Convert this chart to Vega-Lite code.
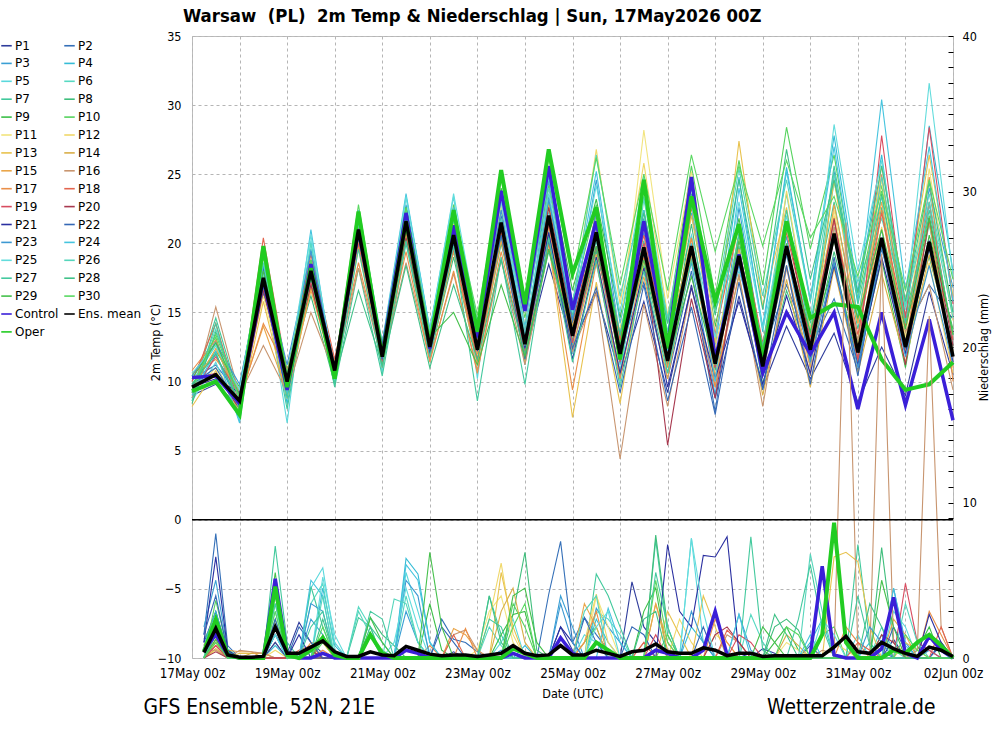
{
  "$schema": "https://vega.github.io/schema/vega-lite/v6.json",
  "width": 761,
  "height": 622,
  "autosize": {"type": "none"},
  "padding": {"left": 192, "top": 36, "right": 47, "bottom": 72},
  "background": "white",
  "config": {
    "view": {"stroke": "#bdbdbd", "strokeWidth": 1},
    "font": "DejaVu Sans",
    "axis": {
      "labelFont": "DejaVu Sans Condensed, DejaVu Sans",
      "titleFont": "DejaVu Sans Condensed, DejaVu Sans",
      "labelFontSize": 12.5,
      "titleFontSize": 12.5,
      "labelColor": "#000",
      "titleColor": "#000",
      "titleFontWeight": "normal",
      "grid": false,
      "domain": false,
      "ticks": false
    }
  },
  "title": {
    "text": "Warsaw \u00a0(PL) \u00a02m Temp & Niederschlag | Sun, 17May2026 00Z",
    "anchor": "start",
    "frame": "group",
    "dx": -9,
    "offset": 5,
    "font": "DejaVu Sans Condensed, DejaVu Sans",
    "fontSize": 18.4,
    "fontWeight": "bold",
    "color": "#000"
  },
  "datasets": {
    "steps": [
      {"k": "n0", "t": 1778976000000}, {"k": "n1", "t": 1778997600000}, {"k": "n2", "t": 1779019200000}, {"k": "n3", "t": 1779040800000},
      {"k": "n4", "t": 1779062400000}, {"k": "n5", "t": 1779084000000}, {"k": "n6", "t": 1779105600000}, {"k": "n7", "t": 1779127200000},
      {"k": "n8", "t": 1779148800000}, {"k": "n9", "t": 1779170400000}, {"k": "n10", "t": 1779192000000}, {"k": "n11", "t": 1779213600000},
      {"k": "n12", "t": 1779235200000}, {"k": "n13", "t": 1779256800000}, {"k": "n14", "t": 1779278400000}, {"k": "n15", "t": 1779300000000},
      {"k": "n16", "t": 1779321600000}, {"k": "n17", "t": 1779343200000}, {"k": "n18", "t": 1779364800000}, {"k": "n19", "t": 1779386400000},
      {"k": "n20", "t": 1779408000000}, {"k": "n21", "t": 1779429600000}, {"k": "n22", "t": 1779451200000}, {"k": "n23", "t": 1779472800000},
      {"k": "n24", "t": 1779494400000}, {"k": "n25", "t": 1779516000000}, {"k": "n26", "t": 1779537600000}, {"k": "n27", "t": 1779559200000},
      {"k": "n28", "t": 1779580800000}, {"k": "n29", "t": 1779602400000}, {"k": "n30", "t": 1779624000000}, {"k": "n31", "t": 1779645600000},
      {"k": "n32", "t": 1779667200000}, {"k": "n33", "t": 1779688800000}, {"k": "n34", "t": 1779710400000}, {"k": "n35", "t": 1779732000000},
      {"k": "n36", "t": 1779753600000}, {"k": "n37", "t": 1779775200000}, {"k": "n38", "t": 1779796800000}, {"k": "n39", "t": 1779818400000},
      {"k": "n40", "t": 1779840000000}, {"k": "n41", "t": 1779861600000}, {"k": "n42", "t": 1779883200000}, {"k": "n43", "t": 1779904800000},
      {"k": "n44", "t": 1779926400000}, {"k": "n45", "t": 1779948000000}, {"k": "n46", "t": 1779969600000}, {"k": "n47", "t": 1779991200000},
      {"k": "n48", "t": 1780012800000}, {"k": "n49", "t": 1780034400000}, {"k": "n50", "t": 1780056000000}, {"k": "n51", "t": 1780077600000},
      {"k": "n52", "t": 1780099200000}, {"k": "n53", "t": 1780120800000}, {"k": "n54", "t": 1780142400000}, {"k": "n55", "t": 1780164000000},
      {"k": "n56", "t": 1780185600000}, {"k": "n57", "t": 1780207200000}, {"k": "n58", "t": 1780228800000}, {"k": "n59", "t": 1780250400000},
      {"k": "n60", "t": 1780272000000}, {"k": "n61", "t": 1780293600000}, {"k": "n62", "t": 1780315200000}, {"k": "n63", "t": 1780336800000},
      {"k": "n64", "t": 1780358400000}
    ],
    "temp": [
      {"s":"P1","n0":9,"n2":9.8,"n4":8.2,"n6":17,"n8":9.8,"n10":18.8,"n12":11,"n14":20.5,"n16":12,"n18":21,"n20":12.8,"n22":20,"n24":12,"n26":20.5,"n28":11.8,"n30":18.5,"n32":12.6,"n34":16.5,"n36":10.4,"n38":15.8,"n40":9.2,"n42":17,"n44":8.8,"n46":16.2,"n48":9.5,"n50":14,"n52":10.2,"n54":13.5,"n56":8.5,"n58":12.5,"n60":9,"n62":16.5,"n64":10.5},
      {"s":"P2","n0":10.2,"n2":11.2,"n4":9,"n6":16.4,"n8":10.4,"n10":18.2,"n12":11.3,"n14":21.8,"n16":12.4,"n18":22.4,"n20":13,"n22":21.2,"n24":11.6,"n26":22,"n28":12.2,"n30":23.5,"n32":14.2,"n34":19.5,"n36":12.4,"n38":17.2,"n40":10.2,"n42":18,"n44":7.8,"n46":20.4,"n48":12,"n50":17,"n52":12.4,"n54":16,"n56":10.8,"n58":19.6,"n60":13.5,"n62":17,"n64":14.5},
      {"s":"P3","n0":8.8,"n2":12,"n4":8,"n6":18.5,"n8":10.6,"n10":19.6,"n12":10.2,"n14":21.2,"n16":11.3,"n18":22.8,"n20":13.6,"n22":21.8,"n24":13,"n26":23,"n28":12.8,"n30":24.5,"n32":14.6,"n34":24.6,"n36":13.2,"n38":20.8,"n40":12,"n42":18.6,"n44":9,"n46":22.6,"n48":12.2,"n50":20.5,"n52":11,"n54":25.2,"n56":14.5,"n58":21,"n60":12,"n62":24,"n64":16.8},
      {"s":"P4","n0":9.4,"n2":13,"n4":7.4,"n6":18,"n8":8.4,"n10":17.4,"n12":10.6,"n14":20.8,"n16":11,"n18":21.8,"n20":12,"n22":20.8,"n24":11.8,"n26":21.2,"n28":11.2,"n30":22.4,"n32":12.6,"n34":22,"n36":11.2,"n38":19.2,"n40":12.8,"n42":22.2,"n44":12.5,"n46":24.8,"n48":13.6,"n50":25.5,"n52":15.8,"n54":27.8,"n56":16.5,"n58":26.4,"n60":14,"n62":28.5,"n64":18},
      {"s":"P5","n0":8.6,"n2":11.4,"n4":7.2,"n6":17.8,"n8":7,"n10":20.2,"n12":10,"n14":20.6,"n16":10.6,"n18":23.4,"n20":13.8,"n22":23.4,"n24":10.2,"n26":22.6,"n28":13.8,"n30":21.8,"n32":13.8,"n34":18.5,"n36":10.8,"n38":21.5,"n40":14.6,"n42":20.6,"n44":13.2,"n46":18,"n48":12.6,"n50":22,"n52":13,"n54":21.2,"n56":11.8,"n58":20.2,"n60":12.4,"n62":22.8,"n64":13},
      {"s":"P6","n0":10,"n2":12.6,"n4":8.4,"n6":18.6,"n8":9.6,"n10":20,"n12":10.4,"n14":21.6,"n16":11.8,"n18":22,"n20":12.4,"n22":21.6,"n24":12.8,"n26":21.8,"n28":11.8,"n30":21,"n32":12,"n34":20.2,"n36":10,"n38":23.2,"n40":13.6,"n42":24.6,"n44":15.2,"n46":19.2,"n48":12.6,"n50":23.6,"n52":13.6,"n54":24.4,"n56":17.2,"n58":21.8,"n60":15.6,"n62":23.6,"n64":15},
      {"s":"P7","n0":9.2,"n2":14.6,"n4":8.8,"n6":17.2,"n8":8,"n10":17.8,"n12":9.6,"n14":18.2,"n16":10.4,"n18":20,"n20":11.6,"n22":19.6,"n24":12.4,"n26":20.4,"n28":13.6,"n30":23,"n32":14.8,"n34":21.6,"n36":13.4,"n38":20.2,"n40":10.6,"n42":19,"n44":11,"n46":20.8,"n48":11.4,"n50":21.6,"n52":14.2,"n54":23,"n56":13.8,"n58":22.6,"n60":12.8,"n62":21.4,"n64":12},
      {"s":"P8","n0":8.4,"n2":13.6,"n4":9.2,"n6":16.8,"n8":10.2,"n10":16.2,"n12":9.8,"n14":19.8,"n16":11.6,"n18":20.8,"n20":11.8,"n22":19,"n24":11.4,"n26":20,"n28":12.4,"n30":20.6,"n32":13,"n34":19.4,"n36":12.6,"n38":18.4,"n40":11.2,"n42":21.4,"n44":10.8,"n46":19.8,"n48":9.8,"n50":16.6,"n52":11.6,"n54":19.4,"n56":12.8,"n58":23.6,"n60":14.4,"n62":19,"n64":12.6},
      {"s":"P9","n0":9.8,"n2":12.2,"n4":9.6,"n6":19,"n8":10.8,"n10":17.6,"n12":11.2,"n14":21.4,"n16":12.8,"n18":22.6,"n20":13.4,"n22":22.2,"n24":14.4,"n26":24,"n28":15.2,"n30":25.4,"n32":16.6,"n34":23.2,"n36":14.6,"n38":22.4,"n40":13.2,"n42":24.4,"n44":14,"n46":21.8,"n48":12.4,"n50":20,"n52":12.6,"n54":18.6,"n56":11.6,"n58":18.8,"n60":11,"n62":20.6,"n64":13.8},
      {"s":"P10","n0":10.4,"n2":13.2,"n4":8,"n6":19.2,"n8":10,"n10":18.8,"n12":10.8,"n14":20.4,"n16":12.2,"n18":21.2,"n20":12.6,"n22":22.8,"n24":13.8,"n26":22.4,"n28":14.6,"n30":24.2,"n32":15.8,"n34":22.8,"n36":12.8,"n38":24,"n40":14.2,"n42":25.6,"n44":16.2,"n46":26,"n48":17,"n50":28.4,"n52":19.6,"n54":26.4,"n56":16,"n58":24.2,"n60":14.8,"n62":22,"n64":13.4},
      {"s":"P11","n0":9,"n2":11,"n4":8.6,"n6":16.2,"n8":9.4,"n10":17,"n12":10.4,"n14":19.6,"n16":11.4,"n18":21.4,"n20":12.8,"n22":20.2,"n24":11.8,"n26":22.8,"n28":13,"n30":22.6,"n32":13.4,"n34":21.8,"n36":13.6,"n38":28.2,"n40":16,"n42":25.2,"n44":13.6,"n46":21.2,"n48":10.8,"n50":19.2,"n52":11.8,"n54":22.4,"n56":12.6,"n58":24.6,"n60":13.2,"n62":25.4,"n64":14.4},
      {"s":"P12","n0":9.6,"n2":10.4,"n4":8.2,"n6":17.6,"n8":10.4,"n10":18.4,"n12":11.4,"n14":21.6,"n16":12.6,"n18":22.2,"n20":13.2,"n22":21.4,"n24":12.6,"n26":23.6,"n28":14,"n30":25.2,"n32":15.4,"n34":26.8,"n36":15.6,"n38":25.8,"n40":14.8,"n42":23,"n44":12.4,"n46":20.4,"n48":11.6,"n50":23.8,"n52":13.8,"n54":22,"n56":12.4,"n58":21.2,"n60":12,"n62":18.6,"n64":10.6},
      {"s":"P13","n0":8.2,"n2":10.8,"n4":7.8,"n6":15.8,"n8":8.8,"n10":16.8,"n12":10.2,"n14":20.2,"n16":11.2,"n18":21.8,"n20":13.4,"n22":22,"n24":13.6,"n26":21,"n28":11.4,"n30":20,"n32":7.4,"n34":17.2,"n36":8.4,"n38":18.8,"n40":12.4,"n42":22,"n44":12.8,"n46":27.4,"n48":15.4,"n50":22.6,"n52":12.2,"n54":24.6,"n56":14.2,"n58":25.6,"n60":15.8,"n62":26.4,"n64":16.2},
      {"s":"P14","n0":10.6,"n2":11.6,"n4":9.4,"n6":17.2,"n8":10.6,"n10":18,"n12":11,"n14":20.8,"n16":11.8,"n18":20.6,"n20":12.2,"n22":20.4,"n24":12,"n26":21.4,"n28":12.6,"n30":22.8,"n32":14,"n34":21,"n36":11.8,"n38":21.2,"n40":12.6,"n42":20.4,"n44":10.2,"n46":17.6,"n48":9,"n50":17.4,"n52":9.6,"n54":18.2,"n56":10.6,"n58":17.8,"n60":11.4,"n62":19.2,"n64":12.2},
      {"s":"P15","n0":9.4,"n2":12.4,"n4":8.8,"n6":14,"n8":9.2,"n10":16.6,"n12":10.6,"n14":19.8,"n16":11,"n18":20.4,"n20":11.8,"n22":19.4,"n24":11.2,"n26":20.2,"n28":12,"n30":21.2,"n32":12.4,"n34":19.2,"n36":10.6,"n38":17.6,"n40":10.2,"n42":19.2,"n44":10.4,"n46":19.6,"n48":11.6,"n50":18.4,"n52":11,"n54":22.8,"n56":14.2,"n58":23,"n60":12.8,"n62":21.6,"n64":11},
      {"s":"P16","n0":8.8,"n2":15.4,"n4":9,"n6":12.6,"n8":9.2,"n10":15,"n12":10.6,"n14":18.2,"n16":11.4,"n18":18.6,"n20":11.6,"n22":17.8,"n24":10.8,"n26":18.8,"n28":11.2,"n30":19.6,"n32":12.2,"n34":16.4,"n36":4.4,"n38":15.6,"n40":8.2,"n42":16.8,"n44":9.6,"n46":17.8,"n48":8.2,"n50":18.2,"n52":10.4,"n54":21.2,"n56":13,"n58":25,"n60":13.6,"n62":17,"n64":9.4},
      {"s":"P17","n0":10.8,"n2":13,"n4":8.6,"n6":14.2,"n8":10.8,"n10":17.6,"n12":10.8,"n14":18.6,"n16":11.6,"n18":19.4,"n20":11.4,"n22":18,"n24":10.6,"n26":19.4,"n28":11.8,"n30":20,"n32":9.4,"n34":18.6,"n36":10.2,"n38":19,"n40":11,"n42":20.4,"n44":9.6,"n46":18.6,"n48":10.4,"n50":19.6,"n52":12,"n54":20.8,"n56":11.4,"n58":22.4,"n60":12.2,"n62":24.8,"n64":10},
      {"s":"P18","n0":10,"n2":14.2,"n4":8.4,"n6":20.4,"n8":10.6,"n10":19.2,"n12":11.6,"n14":20,"n16":12,"n18":20.8,"n20":12.6,"n22":19.6,"n24":11.6,"n26":20.8,"n28":12.6,"n30":21.6,"n32":13.6,"n34":22.4,"n36":13,"n38":20.6,"n40":12,"n42":22.6,"n44":13.4,"n46":21.4,"n48":12.8,"n50":20.8,"n52":13.2,"n54":21.6,"n56":13.4,"n58":22.2,"n60":14,"n62":23,"n64":13},
      {"s":"P19","n0":9.2,"n2":11.8,"n4":9,"n6":17,"n8":10.2,"n10":17.2,"n12":10.2,"n14":20.6,"n16":11.4,"n18":21.6,"n20":12.2,"n22":20.8,"n24":12.4,"n26":21.2,"n28":12,"n30":21.4,"n32":12.8,"n34":19.8,"n36":11.4,"n38":20,"n40":11.8,"n42":19.6,"n44":11,"n46":18.8,"n48":10.6,"n50":19.6,"n52":12,"n54":20.4,"n56":11.6,"n58":27.8,"n60":14.6,"n62":28.4,"n64":15.6},
      {"s":"P20","n0":10.2,"n2":10.6,"n4":8,"n6":16.6,"n8":9.8,"n10":17,"n12":10.4,"n14":21.2,"n16":12.2,"n18":20.4,"n20":12.4,"n22":20.6,"n24":12.8,"n26":21.6,"n28":13.4,"n30":22.6,"n32":14.4,"n34":20.6,"n36":12.2,"n38":19.4,"n40":5.4,"n42":16,"n44":8.8,"n46":19,"n48":11,"n50":21.4,"n52":12.8,"n54":21.8,"n56":12.2,"n58":20,"n60":11.2,"n62":21.8,"n64":12.6},
      {"s":"P21","n0":9.6,"n2":10.2,"n4":9.2,"n6":17.4,"n8":9.6,"n10":18.6,"n12":11.2,"n14":21,"n16":12.2,"n18":21.4,"n20":12,"n22":20.4,"n24":12.2,"n26":21.8,"n28":12.4,"n30":20.8,"n32":11.6,"n34":19,"n36":10.6,"n38":18.2,"n40":9.6,"n42":16.8,"n44":10.2,"n46":15.8,"n48":9.8,"n50":16.2,"n52":10.6,"n54":18.4,"n56":11.2,"n58":19,"n60":12,"n62":20.2,"n64":11.4},
      {"s":"P22","n0":9.8,"n2":11,"n4":8.2,"n6":18.2,"n8":10.2,"n10":18,"n12":10.4,"n14":20.4,"n16":11.6,"n18":21.2,"n20":12.6,"n22":20,"n24":12.6,"n26":20.6,"n28":11.6,"n30":20.2,"n32":12.4,"n34":16.8,"n36":9.2,"n38":17,"n40":8.6,"n42":15.4,"n44":7.6,"n46":17.2,"n48":9.4,"n50":18.4,"n52":9.8,"n54":19,"n56":10.4,"n58":20.4,"n60":12.4,"n62":19.6,"n64":12},
      {"s":"P23","n0":10.4,"n2":12.8,"n4":9.8,"n6":18.4,"n8":11.2,"n10":19.4,"n12":11,"n14":22,"n16":12.4,"n18":22,"n20":13,"n22":21.2,"n24":13.2,"n26":22.4,"n28":13.2,"n30":23.2,"n32":14.4,"n34":22.2,"n36":13.4,"n38":21.8,"n40":12.6,"n42":19.4,"n44":11.6,"n46":18.4,"n48":10.6,"n50":19.2,"n52":11.4,"n54":18.6,"n56":11,"n58":19.8,"n60":11.8,"n62":18.4,"n64":11.2},
      {"s":"P24","n0":9,"n2":12.2,"n4":7,"n6":19.4,"n8":9,"n10":21,"n12":10.2,"n14":22.4,"n16":12.8,"n18":23.6,"n20":13.8,"n22":22.6,"n24":13.6,"n26":23.4,"n28":14,"n30":24.8,"n32":15.6,"n34":25.2,"n36":14.2,"n38":22.4,"n40":12.2,"n42":20,"n44":10,"n46":24,"n48":14,"n50":25.2,"n52":16,"n54":27,"n56":15.8,"n58":30.4,"n60":16.6,"n62":27,"n64":15.8},
      {"s":"P25","n0":10.6,"n2":12.6,"n4":9.4,"n6":19.2,"n8":10.4,"n10":20.6,"n12":10.6,"n14":22,"n16":12.6,"n18":23.4,"n20":13.6,"n22":23.6,"n24":14.2,"n26":23,"n28":13.4,"n30":23.6,"n32":15,"n34":24.2,"n36":15,"n38":24.8,"n40":14.4,"n42":22.8,"n44":13.2,"n46":23,"n48":13.8,"n50":21.6,"n52":14.4,"n54":28.6,"n56":18,"n58":26,"n60":15.2,"n62":31.6,"n64":17.6},
      {"s":"P26","n0":9.2,"n2":13.8,"n4":8.6,"n6":18.6,"n8":9.8,"n10":18.2,"n12":10.8,"n14":21.4,"n16":12,"n18":22.4,"n20":12.8,"n22":21,"n24":12.4,"n26":21.8,"n28":12.6,"n30":24,"n32":15.6,"n34":26.4,"n36":16.2,"n38":23.4,"n40":14.6,"n42":24,"n44":15.4,"n46":25.4,"n48":16.2,"n50":24.6,"n52":15.8,"n54":25,"n56":14.6,"n58":24.8,"n60":15.4,"n62":23,"n64":14.6},
      {"s":"P27","n0":8.6,"n2":14.2,"n4":7.8,"n6":17.6,"n8":8.8,"n10":17.6,"n12":9.8,"n14":19.6,"n16":11,"n18":20.2,"n20":11.8,"n22":19.8,"n24":8.6,"n26":19,"n28":9.8,"n30":20.4,"n32":11.4,"n34":18.8,"n36":9.6,"n38":18,"n40":10.6,"n42":18.8,"n44":11.6,"n46":20.6,"n48":12.6,"n50":22.4,"n52":13.4,"n54":25.6,"n56":15.6,"n58":23.4,"n60":14.2,"n62":22.4,"n64":13.4},
      {"s":"P28","n0":9.8,"n2":12,"n4":8.4,"n6":17,"n8":10,"n10":17.8,"n12":10.2,"n14":16.6,"n16":11.2,"n18":18.4,"n20":11,"n22":17,"n24":11.6,"n26":18.8,"n28":12,"n30":19.4,"n32":13.6,"n34":21.4,"n36":13.4,"n38":22.2,"n40":14.2,"n42":23.6,"n44":14.8,"n46":24.6,"n48":15.2,"n50":26.8,"n52":17.4,"n54":24.6,"n56":16.4,"n58":25.6,"n60":15.8,"n62":24.4,"n64":15},
      {"s":"P29","n0":10.2,"n2":12.8,"n4":9,"n6":18,"n8":10.4,"n10":18.6,"n12":11,"n14":21.8,"n16":12.6,"n18":22,"n20":13.2,"n22":15,"n24":11.2,"n26":17,"n28":11.8,"n30":19.6,"n32":13.4,"n34":19.8,"n36":12.4,"n38":18.8,"n40":11.6,"n42":17.6,"n44":11.2,"n46":20.2,"n48":12.4,"n50":19.6,"n52":13.6,"n54":20.2,"n56":14.6,"n58":21,"n60":13.8,"n62":21.8,"n64":13.4},
      {"s":"P30","n0":9.4,"n2":13.4,"n4":8.8,"n6":19.4,"n8":10.6,"n10":18.8,"n12":11,"n14":22.8,"n16":12.4,"n18":22.6,"n20":13.4,"n22":22.4,"n24":14.8,"n26":24.6,"n28":15.8,"n30":26.2,"n32":17.4,"n34":26.2,"n36":17,"n38":25,"n40":16.6,"n42":26.4,"n44":19.4,"n46":25.6,"n48":19.8,"n50":26,"n52":20.4,"n54":23.4,"n56":17.6,"n58":23.8,"n60":16.6,"n62":24.6,"n64":17.4},
      {"s":"Control","n0":10.3,"n2":10.4,"n4":8.4,"n6":17.4,"n8":9.4,"n10":18.5,"n12":10.6,"n14":21,"n16":12.1,"n18":22.2,"n20":12.4,"n22":21.3,"n24":13.2,"n26":23.8,"n28":15.1,"n30":25.6,"n32":15.2,"n34":21.6,"n36":11.8,"n38":21.6,"n40":12.6,"n42":24.8,"n44":11.6,"n46":19.2,"n48":10.6,"n50":15,"n52":12,"n54":15,"n56":8,"n58":15,"n60":8.3,"n62":14.5,"n64":7.2},
      {"s":"Mean","n0":9.6,"n2":10.5,"n4":8.6,"n6":17.5,"n8":10,"n10":18,"n12":10.8,"n14":21,"n16":11.8,"n18":21.6,"n20":12.5,"n22":20.6,"n24":12.3,"n26":21.5,"n28":12.7,"n30":22,"n32":13.3,"n34":20.8,"n36":12,"n38":19.7,"n40":11.5,"n42":19.8,"n44":11.3,"n46":19.1,"n48":11.1,"n50":19.8,"n52":12.3,"n54":20.7,"n56":12.1,"n58":20.4,"n60":12.5,"n62":20.1,"n64":11.8},
      {"s":"Oper","n0":9.3,"n2":10,"n4":7.6,"n6":19.8,"n8":9.6,"n10":18.2,"n12":10.2,"n14":22.3,"n16":11.8,"n18":21.6,"n20":12.6,"n22":22.4,"n24":13.6,"n26":25.3,"n28":15.6,"n30":26.8,"n32":17.8,"n34":22.6,"n36":11.6,"n38":24.6,"n40":12.4,"n42":23.4,"n44":15.8,"n46":21.4,"n48":11.4,"n50":21.6,"n52":14.6,"n54":15.6,"n56":15.4,"n58":11.6,"n60":9.4,"n62":9.8,"n64":11.4}
    ],
    "rain": [
      {"s":"P1","n1":1,"n2":3,"n3":0.4,"n4":0,"n5":0,"n6":0,"n7":1.5,"n8":0.3,"n9":2.3,"n10":1,"n11":0.3,"n12":0,"n13":0,"n14":0,"n15":0,"n16":0,"n17":0,"n18":0,"n19":0,"n20":0,"n21":0,"n22":0.4,"n23":0,"n24":0,"n25":0,"n26":0,"n27":0,"n28":0,"n29":0,"n30":0,"n31":2,"n32":0.5,"n33":0,"n34":0,"n35":0,"n36":0,"n37":4.9,"n38":2,"n39":1,"n40":0.3,"n41":0,"n42":0,"n43":0,"n44":0,"n45":0,"n46":0,"n47":0,"n48":0.6,"n49":0.3,"n50":0,"n51":0,"n52":0,"n53":0,"n54":0,"n55":0,"n56":0,"n57":0,"n58":0,"n59":1.2,"n60":0,"n61":0,"n62":0,"n63":1,"n64":0},
      {"s":"P2","n1":1.5,"n2":8,"n3":0.8,"n4":0,"n5":0,"n6":0,"n7":2,"n8":0.5,"n9":0,"n10":0,"n11":0,"n12":0,"n13":0,"n14":0,"n15":0,"n16":0,"n17":0,"n18":0,"n19":0,"n20":0,"n21":2.5,"n22":1.2,"n23":1,"n24":0.4,"n25":0,"n26":0,"n27":0,"n28":0,"n29":0,"n30":4.1,"n31":7.5,"n32":1,"n33":2.6,"n34":1.5,"n35":0.5,"n36":0,"n37":0,"n38":0,"n39":0,"n40":0,"n41":0,"n42":0,"n43":0,"n44":0,"n45":0,"n46":0,"n47":0,"n48":0,"n49":0,"n50":0,"n51":0,"n52":0.8,"n53":0,"n54":0,"n55":0,"n56":0,"n57":0,"n58":0.5,"n59":0,"n60":0,"n61":0,"n62":0,"n63":0.8,"n64":0},
      {"s":"P3","n1":2,"n2":5,"n3":0.5,"n4":0,"n5":0,"n6":0,"n7":1,"n8":0,"n9":0,"n10":2.5,"n11":1.5,"n12":0,"n13":0,"n14":0,"n15":0,"n16":0,"n17":0,"n18":3,"n19":1,"n20":0,"n21":0,"n22":0,"n23":0,"n24":0,"n25":0,"n26":0.5,"n27":0,"n28":0,"n29":0,"n30":0,"n31":4,"n32":2,"n33":0,"n34":3.2,"n35":2,"n36":1,"n37":0,"n38":0,"n39":0,"n40":0,"n41":0,"n42":0,"n43":0,"n44":0,"n45":0,"n46":2.8,"n47":0.5,"n48":0,"n49":0,"n50":0,"n51":0,"n52":0,"n53":0,"n54":0,"n55":0,"n56":0,"n57":0,"n58":0,"n59":4.5,"n60":1,"n61":0,"n62":0.5,"n63":0,"n64":0},
      {"s":"P4","n1":0.8,"n2":3,"n3":0.3,"n4":0,"n5":0,"n6":0,"n7":0.8,"n8":0,"n9":0,"n10":0,"n11":4.5,"n12":0.8,"n13":0,"n14":0,"n15":0,"n16":0,"n17":0,"n18":6.4,"n19":5.4,"n20":1,"n21":0,"n22":0,"n23":0,"n24":0,"n25":0,"n26":0,"n27":0,"n28":0.8,"n29":0,"n30":0,"n31":0,"n32":0,"n33":0,"n34":2.5,"n35":1,"n36":0,"n37":0,"n38":0,"n39":0,"n40":0,"n41":0,"n42":2,"n43":1,"n44":0,"n45":0,"n46":0,"n47":0,"n48":0,"n49":0,"n50":0,"n51":0,"n52":1,"n53":2.5,"n54":0,"n55":0,"n56":0,"n57":1,"n58":0,"n59":0,"n60":0,"n61":0,"n62":0,"n63":0,"n64":0},
      {"s":"P5","n1":0,"n2":2.5,"n3":0.5,"n4":0,"n5":0,"n6":0,"n7":1.5,"n8":0,"n9":0,"n10":4.5,"n11":5.8,"n12":1,"n13":0,"n14":0,"n15":0,"n16":0,"n17":0,"n18":5.5,"n19":3,"n20":0.3,"n21":0,"n22":0,"n23":0,"n24":0,"n25":0,"n26":1,"n27":2.5,"n28":0,"n29":0,"n30":0,"n31":0,"n32":0,"n33":1.5,"n34":1,"n35":0,"n36":0,"n37":0,"n38":0,"n39":0,"n40":0,"n41":0,"n42":7.7,"n43":1,"n44":0,"n45":0,"n46":0,"n47":0,"n48":0,"n49":0,"n50":0,"n51":0,"n52":0,"n53":0,"n54":0,"n55":0,"n56":1.5,"n57":0,"n58":0,"n59":3,"n60":2,"n61":0,"n62":0,"n63":0,"n64":0},
      {"s":"P6","n1":0,"n2":2,"n3":0.6,"n4":0,"n5":0,"n6":0,"n7":3,"n8":0,"n9":0,"n10":3.5,"n11":4.8,"n12":0.5,"n13":0,"n14":3.3,"n15":2,"n16":0,"n17":0,"n18":4,"n19":1,"n20":0,"n21":0,"n22":0,"n23":0,"n24":0,"n25":2,"n26":0.8,"n27":0,"n28":0,"n29":0,"n30":0,"n31":0,"n32":0,"n33":0,"n34":3,"n35":2.5,"n36":1.5,"n37":0,"n38":0,"n39":0,"n40":0,"n41":0,"n42":0,"n43":0,"n44":0,"n45":0,"n46":0,"n47":2.8,"n48":1,"n49":0,"n50":0,"n51":0,"n52":0,"n53":0,"n54":0,"n55":0,"n56":0,"n57":0,"n58":2,"n59":0.5,"n60":0,"n61":0,"n62":0,"n63":0,"n64":0},
      {"s":"P7","n1":1.2,"n2":2.5,"n3":0.4,"n4":0,"n5":0,"n6":0,"n7":7.2,"n8":1,"n9":0,"n10":4.6,"n11":2,"n12":0,"n13":0,"n14":2.6,"n15":2,"n16":1,"n17":0,"n18":0,"n19":0,"n20":0,"n21":0,"n22":0,"n23":0,"n24":0,"n25":4,"n26":1.5,"n27":0,"n28":0,"n29":0,"n30":0,"n31":0,"n32":0,"n33":0,"n34":5.4,"n35":4,"n36":2,"n37":0,"n38":0,"n39":7.6,"n40":1.5,"n41":0,"n42":0,"n43":0,"n44":0,"n45":0,"n46":0,"n47":7.8,"n48":0.5,"n49":0,"n50":0,"n51":0,"n52":0,"n53":0,"n54":0,"n55":0,"n56":7.3,"n57":1,"n58":0,"n59":0,"n60":0,"n61":0,"n62":0,"n63":0,"n64":0},
      {"s":"P8","n1":0,"n2":1.5,"n3":0.3,"n4":0,"n5":0,"n6":0,"n7":3.5,"n8":0.4,"n9":0,"n10":0,"n11":0,"n12":0,"n13":0,"n14":0,"n15":2.6,"n16":1.5,"n17":0.8,"n18":0,"n19":0,"n20":0,"n21":0,"n22":0,"n23":0,"n24":0,"n25":0,"n26":0,"n27":2.8,"n28":6.8,"n29":0.5,"n30":0,"n31":0,"n32":0,"n33":0,"n34":0,"n35":0,"n36":0,"n37":0,"n38":0,"n39":7.9,"n40":2,"n41":0,"n42":0,"n43":0,"n44":0,"n45":0,"n46":0,"n47":0,"n48":0,"n49":2,"n50":2.5,"n51":1.8,"n52":0,"n53":0,"n54":0,"n55":0,"n56":0,"n57":0,"n58":7.1,"n59":1,"n60":0,"n61":0,"n62":0,"n63":0,"n64":0},
      {"s":"P9","n1":0,"n2":1,"n3":0,"n4":0,"n5":0,"n6":0,"n7":4,"n8":0,"n9":0,"n10":0,"n11":1.2,"n12":0,"n13":0,"n14":0,"n15":0,"n16":0,"n17":0,"n18":0,"n19":0,"n20":3.5,"n21":0.5,"n22":0,"n23":0,"n24":0,"n25":0,"n26":1.5,"n27":2.8,"n28":3,"n29":0,"n30":0,"n31":0,"n32":0,"n33":0,"n34":0,"n35":0,"n36":0,"n37":0,"n38":3,"n39":4.5,"n40":0,"n41":0,"n42":0,"n43":0,"n44":0,"n45":0,"n46":0,"n47":0,"n48":0,"n49":1,"n50":2,"n51":0.5,"n52":0,"n53":0,"n54":0,"n55":0,"n56":0,"n57":0,"n58":0,"n59":0,"n60":0,"n61":0.5,"n62":2,"n63":0,"n64":0},
      {"s":"P10","n1":0,"n2":3.7,"n3":0.5,"n4":0,"n5":0,"n6":0,"n7":2.5,"n8":0,"n9":0,"n10":0,"n11":1,"n12":0,"n13":0,"n14":0,"n15":1.5,"n16":0.5,"n17":0,"n18":0,"n19":0,"n20":0,"n21":0,"n22":0,"n23":0,"n24":0,"n25":0,"n26":0,"n27":3.5,"n28":2,"n29":0,"n30":0,"n31":0,"n32":0,"n33":1,"n34":2,"n35":0,"n36":0,"n37":0,"n38":0,"n39":0,"n40":1.5,"n41":0,"n42":0,"n43":0,"n44":0,"n45":0,"n46":0,"n47":0,"n48":0,"n49":0,"n50":0,"n51":0,"n52":0,"n53":1.5,"n54":2,"n55":0,"n56":0,"n57":0,"n58":1.5,"n59":0,"n60":0,"n61":0,"n62":1.5,"n63":1,"n64":0},
      {"s":"P11","n1":0.5,"n2":0.8,"n3":0,"n4":0,"n5":0,"n6":0,"n7":1,"n8":0,"n9":0,"n10":0,"n11":0,"n12":0,"n13":0,"n14":0,"n15":0,"n16":0,"n17":0,"n18":0,"n19":0,"n20":0,"n21":0,"n22":0,"n23":0,"n24":0.5,"n25":3,"n26":4,"n27":1,"n28":0,"n29":0,"n30":0,"n31":0,"n32":0,"n33":0,"n34":4,"n35":2,"n36":0,"n37":0,"n38":0,"n39":0,"n40":0,"n41":0,"n42":0,"n43":0,"n44":1.5,"n45":1,"n46":0,"n47":0,"n48":0,"n49":0,"n50":1,"n51":0.5,"n52":0,"n53":0,"n54":0,"n55":0,"n56":0,"n57":0,"n58":0,"n59":0,"n60":0,"n61":0,"n62":0,"n63":0,"n64":0},
      {"s":"P12","n1":0,"n2":0.5,"n3":0,"n4":0,"n5":0,"n6":0,"n7":0.5,"n8":0,"n9":0,"n10":0,"n11":0,"n12":0,"n13":0,"n14":0,"n15":0,"n16":0,"n17":0,"n18":0,"n19":0,"n20":0,"n21":0,"n22":0,"n23":0,"n24":0,"n25":2.5,"n26":6.1,"n27":1.5,"n28":0,"n29":0,"n30":0,"n31":0,"n32":0,"n33":1,"n34":4.1,"n35":1,"n36":0,"n37":0,"n38":0,"n39":0,"n40":0,"n41":2.5,"n42":1,"n43":0,"n44":0,"n45":0,"n46":0,"n47":0,"n48":0,"n49":0,"n50":0,"n51":0,"n52":0,"n53":0,"n54":1,"n55":0.5,"n56":0,"n57":0,"n58":0,"n59":0,"n60":0,"n61":0,"n62":0,"n63":0,"n64":0},
      {"s":"P13","n1":0.5,"n2":1,"n3":0,"n4":0.3,"n5":0.3,"n6":0.3,"n7":0,"n8":0,"n9":0,"n10":0,"n11":0,"n12":0,"n13":0,"n14":0,"n15":0,"n16":0,"n17":0,"n18":0,"n19":0,"n20":0,"n21":0,"n22":0,"n23":0,"n24":0,"n25":0,"n26":5.5,"n27":2,"n28":0,"n29":0,"n30":0,"n31":0,"n32":0,"n33":0,"n34":0,"n35":0,"n36":0,"n37":0,"n38":0,"n39":0,"n40":3,"n41":1.5,"n42":0,"n43":4,"n44":2,"n45":0,"n46":0,"n47":0,"n48":0,"n49":0,"n50":0,"n51":0,"n52":0,"n53":0,"n54":6.5,"n55":6.8,"n56":6.2,"n57":2,"n58":0,"n59":0,"n60":1,"n61":0.5,"n62":0,"n63":0,"n64":0},
      {"s":"P14","n1":0,"n2":0.6,"n3":0,"n4":0,"n5":0.3,"n6":0.3,"n7":0,"n8":0,"n9":0,"n10":0,"n11":0,"n12":0,"n13":0,"n14":0,"n15":0,"n16":0,"n17":0,"n18":0,"n19":0,"n20":0,"n21":0,"n22":0,"n23":0,"n24":0,"n25":0,"n26":3,"n27":4.5,"n28":1,"n29":0,"n30":0,"n31":0,"n32":0,"n33":0,"n34":0,"n35":0,"n36":0,"n37":0,"n38":0,"n39":3.5,"n40":0.5,"n41":0,"n42":0,"n43":0,"n44":0,"n45":0,"n46":0,"n47":0,"n48":0,"n49":0,"n50":1.5,"n51":0.8,"n52":0,"n53":0,"n54":0,"n55":0,"n56":0,"n57":0,"n58":0,"n59":0,"n60":0,"n61":0,"n62":0,"n63":0,"n64":0},
      {"s":"P15","n1":0.8,"n2":2.2,"n3":0.5,"n4":0.4,"n5":0.4,"n6":0,"n7":0,"n8":0,"n9":0,"n10":1,"n11":1,"n12":0,"n13":0,"n14":0,"n15":0,"n16":0,"n17":0,"n18":0,"n19":0,"n20":0,"n21":0,"n22":1.9,"n23":1.5,"n24":0.5,"n25":0,"n26":0,"n27":0,"n28":0,"n29":0,"n30":0,"n31":0,"n32":0,"n33":3.5,"n34":2,"n35":0,"n36":0,"n37":0,"n38":0,"n39":3.5,"n40":1,"n41":0,"n42":0,"n43":0,"n44":0,"n45":0,"n46":0,"n47":0,"n48":0,"n49":0,"n50":0,"n51":0,"n52":0,"n53":0,"n54":0,"n55":0,"n56":0,"n57":0,"n58":0,"n59":2.5,"n60":1.5,"n61":0,"n62":0,"n63":0,"n64":0},
      {"s":"P16","n1":0.5,"n2":0.5,"n3":0,"n4":0.5,"n5":0.4,"n6":0.3,"n7":0,"n8":0,"n9":0,"n10":0,"n11":0,"n12":0,"n13":0,"n14":0,"n15":0,"n16":0,"n17":0,"n18":0,"n19":0,"n20":0,"n21":0,"n22":1.5,"n23":1.8,"n24":0.5,"n25":0,"n26":0,"n27":0,"n28":0,"n29":0,"n30":0,"n31":0,"n32":0,"n33":0,"n34":0,"n35":0,"n36":0,"n37":0,"n38":1,"n39":0,"n40":0,"n41":0,"n42":0,"n43":0,"n44":0,"n45":1.5,"n46":1,"n47":0,"n48":0,"n49":0,"n50":0,"n51":0,"n52":0,"n53":0.5,"n54":0.3,"n55":28,"n56":0.5,"n57":0.2,"n58":26,"n59":1,"n60":0,"n61":0.5,"n62":22,"n63":2,"n64":0},
      {"s":"P17","n1":0,"n2":1.2,"n3":0,"n4":0,"n5":0,"n6":0,"n7":0,"n8":0,"n9":0,"n10":0,"n11":0.5,"n12":0,"n13":0,"n14":0,"n15":0,"n16":0,"n17":0,"n18":0,"n19":0,"n20":0.8,"n21":0,"n22":0,"n23":1.9,"n24":0,"n25":0,"n26":0,"n27":0,"n28":0,"n29":0,"n30":0,"n31":0,"n32":0,"n33":1,"n34":3,"n35":0,"n36":0,"n37":0,"n38":0,"n39":0,"n40":0,"n41":0,"n42":0,"n43":0,"n44":2.5,"n45":1,"n46":0,"n47":0,"n48":0,"n49":0,"n50":0,"n51":0,"n52":0,"n53":0,"n54":0,"n55":2,"n56":1,"n57":0,"n58":0,"n59":0,"n60":0,"n61":0,"n62":3,"n63":1.5,"n64":0},
      {"s":"P18","n1":0,"n2":0.8,"n3":0,"n4":0,"n5":0,"n6":0,"n7":0,"n8":0,"n9":0.5,"n10":0.8,"n11":0,"n12":0,"n13":0,"n14":0,"n15":0,"n16":0,"n17":0,"n18":0,"n19":0,"n20":0,"n21":0,"n22":1.5,"n23":0,"n24":0,"n25":0,"n26":0,"n27":0,"n28":0,"n29":0,"n30":0,"n31":0,"n32":0,"n33":0,"n34":0,"n35":0,"n36":0,"n37":0,"n38":1,"n39":0,"n40":0,"n41":0,"n42":0,"n43":0,"n44":0,"n45":1.8,"n46":1,"n47":0,"n48":0,"n49":0,"n50":0,"n51":0,"n52":0,"n53":0,"n54":0,"n55":0,"n56":1,"n57":0.5,"n58":0,"n59":0,"n60":0,"n61":0,"n62":0,"n63":2,"n64":0},
      {"s":"P19","n1":0,"n2":0.8,"n3":0,"n4":0,"n5":0,"n6":0,"n7":0,"n8":0,"n9":0,"n10":0.5,"n11":0,"n12":0,"n13":0,"n14":0,"n15":0,"n16":0,"n17":0,"n18":0,"n19":0,"n20":0,"n21":0,"n22":0,"n23":0,"n24":0,"n25":0,"n26":0,"n27":0,"n28":0,"n29":0,"n30":0,"n31":0,"n32":0,"n33":0,"n34":0,"n35":0,"n36":0,"n37":0,"n38":0,"n39":1.5,"n40":0,"n41":0,"n42":0,"n43":0,"n44":0,"n45":0,"n46":1.5,"n47":1,"n48":0,"n49":0,"n50":0,"n51":0,"n52":0,"n53":0,"n54":0,"n55":0,"n56":0,"n57":0,"n58":0,"n59":0,"n60":4.8,"n61":1,"n62":0.5,"n63":0,"n64":0},
      {"s":"P20","n1":0,"n2":0.4,"n3":0,"n4":0,"n5":0,"n6":0,"n7":0,"n8":0,"n9":0,"n10":0.5,"n11":0,"n12":0,"n13":0,"n14":0,"n15":0,"n16":0,"n17":0,"n18":0,"n19":0,"n20":0,"n21":0,"n22":0,"n23":0,"n24":0,"n25":0,"n26":0,"n27":0,"n28":0,"n29":0,"n30":0,"n31":0,"n32":0,"n33":0,"n34":0,"n35":0,"n36":0,"n37":0,"n38":0,"n39":0,"n40":0,"n41":0,"n42":0,"n43":0,"n44":1.5,"n45":2,"n46":1,"n47":0,"n48":0,"n49":0,"n50":0,"n51":0,"n52":0,"n53":0,"n54":0,"n55":0,"n56":0,"n57":0,"n58":1.5,"n59":1,"n60":0,"n61":0,"n62":0,"n63":0,"n64":0},
      {"s":"P21","n1":1,"n2":6.5,"n3":0.5,"n4":0,"n5":0,"n6":0,"n7":1,"n8":0,"n9":1.5,"n10":0,"n11":0,"n12":0,"n13":0,"n14":0,"n15":0,"n16":0,"n17":0,"n18":0,"n19":0,"n20":0,"n21":0,"n22":0,"n23":0,"n24":0,"n25":0,"n26":0,"n27":0,"n28":0,"n29":0,"n30":0,"n31":2,"n32":1,"n33":0,"n34":0,"n35":0,"n36":0,"n37":0,"n38":0,"n39":0,"n40":7.3,"n41":3,"n42":2,"n43":6.6,"n44":6.5,"n45":7.8,"n46":0.3,"n47":0,"n48":0,"n49":0,"n50":0,"n51":0,"n52":0,"n53":0,"n54":0,"n55":0,"n56":0,"n57":0,"n58":0,"n59":0,"n60":0,"n61":0,"n62":2.8,"n63":1,"n64":0},
      {"s":"P22","n1":1.5,"n2":4,"n3":0.4,"n4":0,"n5":0,"n6":0,"n7":2.5,"n8":0,"n9":2,"n10":1,"n11":0,"n12":0,"n13":0,"n14":0,"n15":0,"n16":0,"n17":0,"n18":0,"n19":0,"n20":0,"n21":2,"n22":1,"n23":0,"n24":0,"n25":0,"n26":0,"n27":0,"n28":0,"n29":0,"n30":0,"n31":0,"n32":0,"n33":2.6,"n34":1,"n35":0,"n36":0,"n37":2,"n38":1.5,"n39":0,"n40":0,"n41":0,"n42":0,"n43":2,"n44":0,"n45":0,"n46":0,"n47":0,"n48":0,"n49":0,"n50":0,"n51":0,"n52":0,"n53":0,"n54":0,"n55":0,"n56":0,"n57":0,"n58":0,"n59":2,"n60":0.5,"n61":0,"n62":0,"n63":0,"n64":0},
      {"s":"P23","n1":0,"n2":2,"n3":0,"n4":0,"n5":0,"n6":0,"n7":1.5,"n8":0,"n9":0,"n10":3.5,"n11":3,"n12":0,"n13":0,"n14":0,"n15":0,"n16":0,"n17":0,"n18":5,"n19":4,"n20":0,"n21":0,"n22":0,"n23":0,"n24":0,"n25":0,"n26":0,"n27":0,"n28":0,"n29":0,"n30":0,"n31":3.5,"n32":1,"n33":0,"n34":0,"n35":0,"n36":0,"n37":0,"n38":0,"n39":0,"n40":0,"n41":0,"n42":3,"n43":1,"n44":0,"n45":0,"n46":0,"n47":0,"n48":0,"n49":0,"n50":0,"n51":0,"n52":0,"n53":0,"n54":0,"n55":0,"n56":0,"n57":2,"n58":1,"n59":0,"n60":0,"n61":0,"n62":0,"n63":0,"n64":0},
      {"s":"P24","n1":0,"n2":1.5,"n3":0,"n4":0,"n5":0,"n6":0,"n7":2,"n8":0,"n9":0,"n10":5,"n11":4,"n12":0,"n13":0,"n14":0,"n15":0,"n16":0,"n17":0,"n18":6,"n19":5,"n20":1,"n21":0,"n22":0,"n23":0,"n24":0,"n25":0,"n26":0,"n27":0,"n28":0,"n29":0,"n30":0,"n31":0,"n32":0,"n33":0,"n34":0,"n35":3.2,"n36":1,"n37":0,"n38":0,"n39":0,"n40":0,"n41":0,"n42":0,"n43":0,"n44":0,"n45":0,"n46":2.8,"n47":0,"n48":0,"n49":0,"n50":0,"n51":0,"n52":1.5,"n53":0,"n54":0,"n55":0,"n56":0,"n57":0,"n58":0,"n59":4.5,"n60":0.8,"n61":0,"n62":0,"n63":0,"n64":0},
      {"s":"P25","n1":0,"n2":1.8,"n3":0,"n4":0,"n5":0,"n6":0,"n7":1.5,"n8":0,"n9":0,"n10":0,"n11":5.2,"n12":1.5,"n13":0,"n14":0,"n15":0,"n16":0,"n17":1,"n18":4.5,"n19":2,"n20":0,"n21":0,"n22":0,"n23":0,"n24":0,"n25":0,"n26":0,"n27":0,"n28":0,"n29":0,"n30":0,"n31":0,"n32":0,"n33":0,"n34":2,"n35":3,"n36":0,"n37":0,"n38":0,"n39":0,"n40":0,"n41":0,"n42":7.7,"n43":3,"n44":0,"n45":0,"n46":0,"n47":0,"n48":0,"n49":0,"n50":0,"n51":0,"n52":0,"n53":2.5,"n54":1.5,"n55":0,"n56":0,"n57":0,"n58":0,"n59":0,"n60":0,"n61":0,"n62":0,"n63":0,"n64":0},
      {"s":"P26","n1":0,"n2":2.5,"n3":0,"n4":0,"n5":0,"n6":0,"n7":5,"n8":0,"n9":0,"n10":0,"n11":4,"n12":0,"n13":0,"n14":3,"n15":1.5,"n16":0,"n17":3.8,"n18":3.5,"n19":1,"n20":0,"n21":0,"n22":0,"n23":0,"n24":0,"n25":0,"n26":0,"n27":0,"n28":0,"n29":0,"n30":0,"n31":0,"n32":0,"n33":3,"n34":4,"n35":0,"n36":0,"n37":0,"n38":0,"n39":0,"n40":0,"n41":0,"n42":0,"n43":0,"n44":0,"n45":0,"n46":0,"n47":0,"n48":0,"n49":0,"n50":0,"n51":0,"n52":6.7,"n53":3,"n54":0,"n55":0,"n56":0,"n57":0,"n58":0,"n59":0,"n60":3.5,"n61":1,"n62":0,"n63":0,"n64":0},
      {"s":"P27","n1":0,"n2":2,"n3":0,"n4":0,"n5":0,"n6":0,"n7":3.5,"n8":0,"n9":0,"n10":2,"n11":3,"n12":0,"n13":0,"n14":0,"n15":3,"n16":2.5,"n17":0,"n18":0,"n19":0,"n20":0,"n21":0,"n22":0,"n23":0,"n24":0,"n25":2.5,"n26":2,"n27":0,"n28":0,"n29":0,"n30":0,"n31":0,"n32":0,"n33":0,"n34":0,"n35":0,"n36":0,"n37":0,"n38":0,"n39":5.5,"n40":2,"n41":0,"n42":0,"n43":0,"n44":0,"n45":0,"n46":0,"n47":0,"n48":0,"n49":0,"n50":0,"n51":2.5,"n52":6,"n53":2,"n54":0,"n55":0,"n56":4,"n57":0.8,"n58":0,"n59":0,"n60":0,"n61":0,"n62":0,"n63":0,"n64":0},
      {"s":"P28","n1":0,"n2":1.5,"n3":0,"n4":0,"n5":0,"n6":0,"n7":4.5,"n8":0,"n9":0,"n10":0,"n11":2.5,"n12":0,"n13":0,"n14":0,"n15":2,"n16":0,"n17":0,"n18":0,"n19":0,"n20":0,"n21":0,"n22":0,"n23":0,"n24":0,"n25":4,"n26":1,"n27":0,"n28":0,"n29":0,"n30":0,"n31":0,"n32":0,"n33":0,"n34":0,"n35":0,"n36":0,"n37":0,"n38":2.5,"n39":3,"n40":0,"n41":0,"n42":0,"n43":0,"n44":0,"n45":0,"n46":0,"n47":0,"n48":0,"n49":2.8,"n50":1.5,"n51":0,"n52":0,"n53":0,"n54":0,"n55":0,"n56":0,"n57":3.5,"n58":2,"n59":0,"n60":0,"n61":0,"n62":0,"n63":0,"n64":0},
      {"s":"P29","n1":0,"n2":1.2,"n3":0,"n4":0,"n5":0,"n6":0,"n7":5.5,"n8":0,"n9":0,"n10":0,"n11":1.5,"n12":0,"n13":0,"n14":0,"n15":2.6,"n16":1,"n17":0,"n18":0,"n19":0,"n20":6.8,"n21":2,"n22":0,"n23":0,"n24":0,"n25":0,"n26":0,"n27":4,"n28":4.5,"n29":1,"n30":0,"n31":0,"n32":0,"n33":0,"n34":0,"n35":0,"n36":0,"n37":0,"n38":0,"n39":0,"n40":0,"n41":0,"n42":0,"n43":0,"n44":0,"n45":0,"n46":0,"n47":0,"n48":2,"n49":1,"n50":0,"n51":0,"n52":0,"n53":0,"n54":0,"n55":0,"n56":0,"n57":0,"n58":5,"n59":2,"n60":0,"n61":0,"n62":0,"n63":0,"n64":0},
      {"s":"P30","n1":0,"n2":1,"n3":0,"n4":0,"n5":0,"n6":0,"n7":3,"n8":0,"n9":0,"n10":0,"n11":2,"n12":0,"n13":0,"n14":0,"n15":1.5,"n16":0,"n17":0,"n18":0,"n19":0,"n20":0,"n21":0,"n22":0,"n23":0,"n24":0,"n25":0,"n26":0,"n27":2,"n28":3.5,"n29":0,"n30":0,"n31":0,"n32":0,"n33":0,"n34":0,"n35":0,"n36":0,"n37":0,"n38":0,"n39":5,"n40":1,"n41":0,"n42":0,"n43":0,"n44":0,"n45":0,"n46":0,"n47":0,"n48":0,"n49":0,"n50":2,"n51":1.5,"n52":0,"n53":0,"n54":0,"n55":0,"n56":0,"n57":0,"n58":0,"n59":0,"n60":1.5,"n61":0.5,"n62":0,"n63":0,"n64":0},
      {"s":"Control","n1":0.5,"n2":1.5,"n3":0.2,"n4":0,"n5":0,"n6":0,"n7":5.1,"n8":0.3,"n9":0,"n10":0,"n11":0.3,"n12":0,"n13":0,"n14":0,"n15":0,"n16":0,"n17":0,"n18":0.5,"n19":0.3,"n20":0,"n21":0,"n22":0,"n23":0,"n24":0,"n25":0,"n26":0,"n27":0.3,"n28":0,"n29":0,"n30":0,"n31":1.3,"n32":0.3,"n33":0,"n34":0,"n35":0,"n36":0,"n37":0,"n38":0,"n39":0.5,"n40":0.3,"n41":0,"n42":0,"n43":0.5,"n44":3,"n45":0.2,"n46":0,"n47":0,"n48":0,"n49":0,"n50":0,"n51":0,"n52":0.2,"n53":5.9,"n54":0.2,"n55":0,"n56":0,"n57":0,"n58":0.6,"n59":3.9,"n60":0.3,"n61":0,"n62":1.4,"n63":0.5,"n64":0},
      {"s":"Mean","n1":0.35,"n2":1.9,"n3":0.2,"n4":0.05,"n5":0.05,"n6":0.1,"n7":2,"n8":0.3,"n9":0.3,"n10":0.7,"n11":1.1,"n12":0.4,"n13":0.1,"n14":0.1,"n15":0.4,"n16":0.2,"n17":0.15,"n18":0.75,"n19":0.5,"n20":0.25,"n21":0.15,"n22":0.2,"n23":0.2,"n24":0.1,"n25":0.2,"n26":0.3,"n27":0.8,"n28":0.3,"n29":0.15,"n30":0.2,"n31":0.8,"n32":0.2,"n33":0.2,"n34":0.5,"n35":0.3,"n36":0.1,"n37":0.4,"n38":0.5,"n39":0.9,"n40":0.4,"n41":0.3,"n42":0.3,"n43":0.65,"n44":0.5,"n45":0.15,"n46":0.3,"n47":0.3,"n48":0.1,"n49":0.15,"n50":0.15,"n51":0.15,"n52":0.15,"n53":0.15,"n54":0.7,"n55":1.4,"n56":0.4,"n57":0.3,"n58":1,"n59":0.6,"n60":0.3,"n61":0.1,"n62":0.7,"n63":0.5,"n64":0.1},
      {"s":"Oper","n1":0.4,"n2":2.5,"n3":0.2,"n4":0,"n5":0,"n6":0,"n7":4.6,"n8":0.2,"n9":0,"n10":0.5,"n11":1.3,"n12":0.2,"n13":0,"n14":0,"n15":1.5,"n16":0.3,"n17":0,"n18":0,"n19":0,"n20":0,"n21":0,"n22":0,"n23":0,"n24":0,"n25":0,"n26":0,"n27":0.6,"n28":0.3,"n29":0,"n30":0,"n31":0,"n32":0,"n33":0,"n34":1,"n35":0.5,"n36":0,"n37":0,"n38":0,"n39":0,"n40":0,"n41":0,"n42":0,"n43":0,"n44":0,"n45":0,"n46":0,"n47":0,"n48":0,"n49":0,"n50":0,"n51":0,"n52":0,"n53":1.5,"n54":8.7,"n55":1,"n56":0,"n57":0,"n58":0,"n59":0.5,"n60":0.3,"n61":1,"n62":1.5,"n63":0.8,"n64":0}
    ]
  },
  "layer": [
    {
      "data": {"name": "temp"},
      "transform": [
        {"fold": ["n0","n2","n4","n6","n8","n10","n12","n14","n16","n18","n20","n22","n24","n26","n28","n30","n32","n34","n36","n38","n40","n42","n44","n46","n48","n50","n52","n54","n56","n58","n60","n62","n64"], "as": ["k", "v"]},
        {"lookup": "k", "from": {"data": {"name": "steps"}, "key": "k", "fields": ["t"]}}
      ],
      "encoding": {
        "x": {
          "field": "t", "type": "temporal",
          "scale": {"type": "utc", "domain": [1778976000000, 1780358400000]},
          "axis": {
            "orient": "bottom",
            "values": [1778976000000,1779062400000,1779148800000,1779235200000,1779321600000,1779408000000,1779494400000,1779580800000,1779667200000,1779753600000,1779840000000,1779926400000,1780012800000,1780099200000,1780185600000,1780272000000,1780358400000],
            "labelExpr": "round((datum.value - 1778976000000) / 86400000) % 2 === 0 ? utcFormat(datum.value, '%d%b %Hz') : ''",
            "labelOverlap": false,
            "labelFlush": false,
            "labelFontSize": 13.4,
            "labelPadding": 8,
            "grid": true,
            "gridColor": "#b5b5b5",
            "gridDash": [3, 3],
            "gridWidth": 1,
            "title": "Date (UTC)",
            "titleY": 39,
            "titleBaseline": "alphabetic"
          }
        },
        "y": {
          "field": "v", "type": "quantitative",
          "scale": {"domain": [-10, 35], "nice": false, "zero": false},
          "axis": {
            "orient": "left",
            "values": [-10, -5, 0, 5, 10, 15, 20, 25, 30, 35],
            "grid": true,
            "gridColor": "#b5b5b5",
            "gridDash": [3, 3],
            "gridWidth": 1,
            "labelPadding": 11,
            "title": "2m Temp (°C)",
            "titleX": -37,
            "titleY": 306,
            "titleBaseline": "middle",
            "titleAlign": "center"
          }
        },
        "color": {
          "field": "s", "type": "nominal",
          "scale": {
            "domain": ["P1","P2","P3","P4","P5","P6","P7","P8","P9","P10","P11","P12","P13","P14","P15","P16","P17","P18","P19","P20","P21","P22","P23","P24","P25","P26","P27","P28","P29","P30","Control","Mean","Oper"],
            "range": ["#2f3c9c","#3570b8","#3a9fd4","#35bcd6","#5ad8dc","#57d9c2","#41c99c","#3fbe7c","#3cbf48","#56d35e","#f2e47e","#f0d86a","#e8c24e","#d8ae48","#eaa64a","#c8956f","#ea8f49","#e3654f","#d84c60","#a8394f","#2a2fa0","#3568b5","#3c98d2","#45c4de","#62dcdc","#55d5bb","#44c99f","#40c289","#45c04b","#5ad862","#3a1fd8","#000000","#22cc22"]
          },
          "legend": {
            "orient": "none",
            "legendX": -192,
            "legendY": 3,
            "direction": "horizontal",
            "columns": 2,
            "symbolLimit": 50,
            "title": null,
            "symbolType": "stroke",
            "symbolSize": 110,
            "symbolStrokeWidth": 1.6,
            "labelFont": "DejaVu Sans",
            "labelFontSize": 12,
            "labelColor": "#000",
            "rowPadding": 4.9,
            "columnPadding": 2,
            "labelOffset": 2,
            "padding": 0,
            "labelExpr": "datum.label == 'Mean' ? 'Ens. mean' : datum.label"
          }
        }
      },
      "layer": [
        {"transform": [{"filter": {"not": {"field": "s", "oneOf": ["Control", "Mean", "Oper"]}}}], "mark": {"type": "line", "strokeWidth": 1.1}},
        {"transform": [{"filter": {"field": "s", "equal": "Control"}}], "mark": {"type": "line", "strokeWidth": 3.5}},
        {"transform": [{"filter": {"field": "s", "equal": "Oper"}}], "mark": {"type": "line", "strokeWidth": 4}},
        {"transform": [{"filter": {"field": "s", "equal": "Mean"}}], "mark": {"type": "line", "strokeWidth": 3.5}}
      ]
    },
    {
      "data": {"name": "rain"},
      "transform": [
        {"fold": ["n1","n2","n3","n4","n5","n6","n7","n8","n9","n10","n11","n12","n13","n14","n15","n16","n17","n18","n19","n20","n21","n22","n23","n24","n25","n26","n27","n28","n29","n30","n31","n32","n33","n34","n35","n36","n37","n38","n39","n40","n41","n42","n43","n44","n45","n46","n47","n48","n49","n50","n51","n52","n53","n54","n55","n56","n57","n58","n59","n60","n61","n62","n63","n64"], "as": ["k", "v"]},
        {"lookup": "k", "from": {"data": {"name": "steps"}, "key": "k", "fields": ["t"]}}
      ],
      "encoding": {
        "x": {
          "field": "t", "type": "temporal",
          "scale": {"type": "utc", "domain": [1778976000000, 1780358400000]},
          "axis": {
            "orient": "bottom",
            "labels": false,
            "grid": false,
            "title": "GFS Ensemble, 52N, 21E",
            "titleFont": "DejaVu Sans Condensed, DejaVu Sans",
            "titleFontSize": 20.8,
            "titleAnchor": "start",
            "titleAlign": "left",
            "titleBaseline": "alphabetic",
            "titleX": -49,
            "titleY": 55
          }
        },
        "y": {
          "field": "v", "type": "quantitative",
          "scale": {"domain": [0, 40], "nice": false, "zero": false},
          "axis": {
            "orient": "right",
            "values": [0,1,2,3,4,5,6,7,8,9,10,11,12,13,14,15,16,17,18,19,20,21,22,23,24,25,26,27,28,29,30,31,32,33,34,35,36,37,38,39,40],
            "labelExpr": "datum.value % 10 === 0 ? datum.label : ''",
            "ticks": true,
            "tickSize": -5,
            "tickColor": "#000",
            "tickWidth": 1,
            "labelPadding": 14,
            "grid": false,
            "title": "Niederschlag (mm)",
            "titleAngle": 270,
            "titlePadding": 14
          }
        },
        "color": {"field": "s", "type": "nominal"}
      },
      "layer": [
        {"transform": [{"filter": {"not": {"field": "s", "oneOf": ["Control", "Mean", "Oper"]}}}], "mark": {"type": "line", "strokeWidth": 1.1}},
        {"transform": [{"filter": {"field": "s", "equal": "Control"}}], "mark": {"type": "line", "strokeWidth": 3.5}},
        {"transform": [{"filter": {"field": "s", "equal": "Oper"}}], "mark": {"type": "line", "strokeWidth": 4}},
        {"transform": [{"filter": {"field": "s", "equal": "Mean"}}], "mark": {"type": "line", "strokeWidth": 3.5}}
      ]
    },
    {
      "data": {"values": [{"level": 0, "from": 1778976000000, "to": 1780358400000}]},
      "mark": {"type": "rule", "color": "#000", "strokeWidth": 1.5},
      "encoding": {
        "x": {
          "field": "from", "type": "temporal",
          "scale": {"type": "utc", "domain": [1778976000000, 1780358400000]},
          "axis": {
            "orient": "bottom",
            "labels": false,
            "grid": false,
            "title": "Wetterzentrale.de",
            "titleFont": "DejaVu Sans Condensed, DejaVu Sans",
            "titleFontSize": 20.8,
            "titleAlign": "right",
            "titleAnchor": "end",
            "titleBaseline": "alphabetic",
            "titleX": 743,
            "titleY": 55
          }
        },
        "x2": {"field": "to"},
        "y": {"field": "level", "type": "quantitative", "scale": {"domain": [-10, 35], "nice": false, "zero": false}, "axis": null}
      }
    }
  ],
  "resolve": {"scale": {"x": "independent", "y": "independent"}}
}
